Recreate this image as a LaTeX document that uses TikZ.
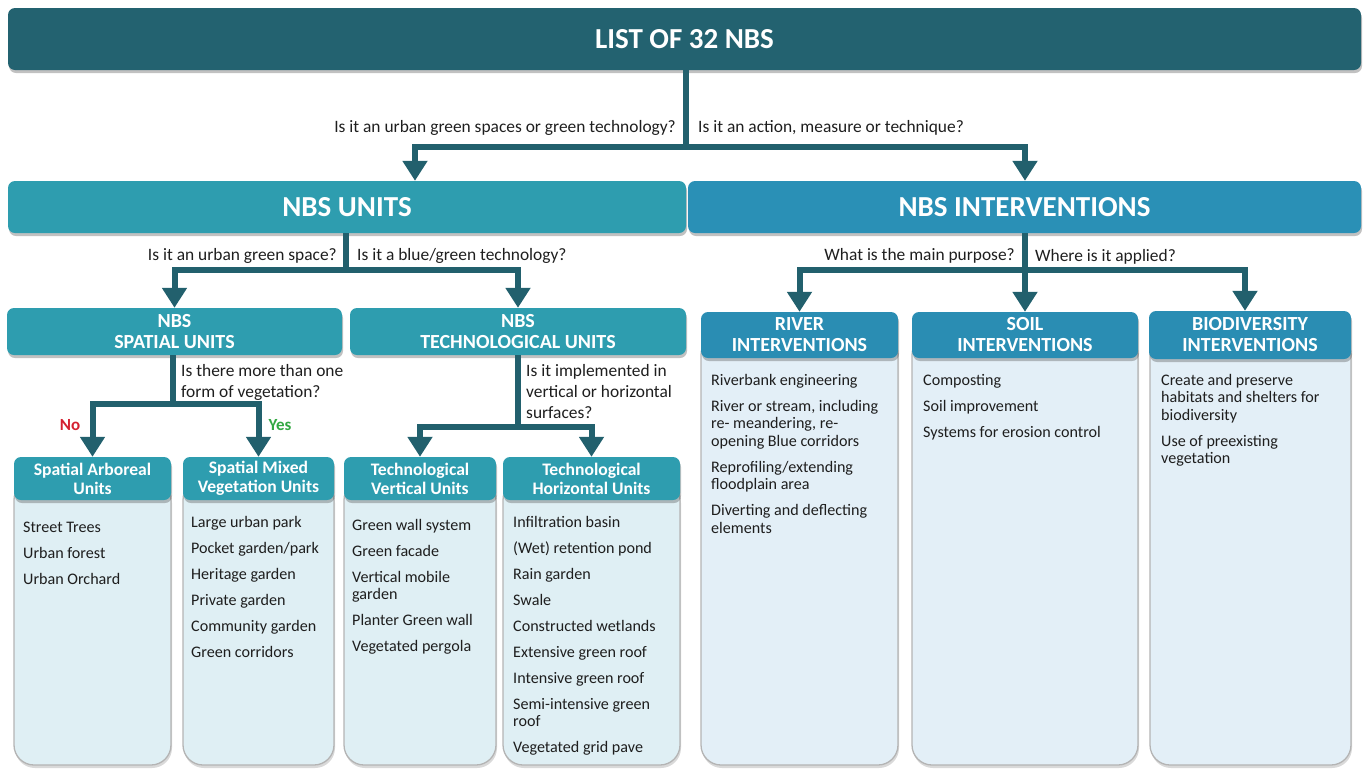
\documentclass[tikz,border=0pt]{standalone}
\usepackage{fontspec}
\setmainfont{Carlito}
\usetikzlibrary{arrows.meta,shadows}
\definecolor{topc}{HTML}{236270}
\definecolor{unitc}{HTML}{2E9DAF}
\definecolor{intc}{HTML}{2A90B6}
\definecolor{rintc}{HTML}{2A8DB3}
\definecolor{arrc}{HTML}{22606D}
\definecolor{bodyl}{HTML}{DFEFF4}
\definecolor{bodyr}{HTML}{E3EFF7}
\definecolor{bordc}{HTML}{B4B4B4}
\definecolor{noc}{HTML}{D42030}
\definecolor{yesc}{HTML}{33A843}
\definecolor{txtc}{HTML}{1E1E1E}
\begin{document}
\begin{tikzpicture}[x=1pt,y=-1pt,
  hdr/.style={fill=#1, text=white, rounded corners=7pt, inner sep=0pt, align=center,
     drop shadow={shadow xshift=1pt,shadow yshift=-3pt,opacity=0.35,fill=black!70}},
  bodybox/.style={fill=#1, draw=bordc, line width=1.3pt, rounded corners=20pt, inner sep=0pt,
     drop shadow={shadow xshift=1pt,shadow yshift=-3pt,opacity=0.25,fill=black!60}},
  conn/.style={draw=arrc, line width=6pt, line join=miter},
  arr/.style={conn, -{Triangle[width=24pt,length=20pt]}},
  bigf/.style={font=\fontsize{29}{32}\selectfont\bfseries},
  midf/.style={font=\fontsize{20}{21}\selectfont\bfseries},
  leaff/.style={font=\fontsize{17.6}{19}\selectfont\bfseries},
  ques/.style={font=\fontsize{17.4}{21}\selectfont, text=txtc, inner sep=0pt, align=left},
  listf/.style={font=\fontsize{16.1}{17.5}\selectfont, text=txtc, inner sep=0pt, align=left, anchor=north west},
]
\useasboundingbox (0,0) rectangle (1369,769);
% ---- bodies
\node[bodybox=bodyl, minimum width=157pt, minimum height=285pt] (ba) at (92.5,622.5) {};
\node[bodybox=bodyl, minimum width=151pt, minimum height=285pt] (bb) at (258.5,622.5) {};
\node[bodybox=bodyl, minimum width=152pt, minimum height=285pt] (bc) at (420,622.5) {};
\node[bodybox=bodyl, minimum width=177pt, minimum height=285pt] (bd) at (591.5,622.5) {};
\node[bodybox=bodyr, minimum width=197pt, minimum height=430pt] (bra) at (799.5,550) {};
\node[bodybox=bodyr, minimum width=226pt, minimum height=430pt] (brb) at (1025,550) {};
\node[bodybox=bodyr, minimum width=201pt, minimum height=430pt] (brc) at (1250.5,550) {};
% ---- headers
\node[hdr=topc, bigf, minimum width=1353pt, minimum height=62pt] (top) at (684.5,39) {LIST OF 32 NBS};
\node[hdr=unitc, bigf, minimum width=678pt, minimum height=52pt] (nu) at (347,207) {NBS UNITS};
\node[hdr=intc, bigf, minimum width=673pt, minimum height=52pt] (ni) at (1024.5,207) {NBS INTERVENTIONS};
\node[hdr=unitc, midf, minimum width=335pt, minimum height=47pt] (su) at (174.5,331.5) {NBS\\SPATIAL UNITS};
\node[hdr=unitc, midf, minimum width=336pt, minimum height=47pt] (tu) at (518,331.5) {NBS\\TECHNOLOGICAL UNITS};
\node[hdr=unitc, leaff, minimum width=157pt, minimum height=43pt] (la) at (92.5,478.5) {Spatial Arboreal\\Units};
\node[hdr=unitc, leaff, minimum width=151pt, minimum height=43pt] (lb) at (258.5,478.5) {Spatial Mixed\\Vegetation Units};
\node[hdr=unitc, leaff, minimum width=152pt, minimum height=43pt] (lc) at (420,478.5) {Technological\\Vertical Units};
\node[hdr=unitc, leaff, minimum width=177pt, minimum height=43pt] (ld) at (591.5,478.5) {Technological\\Horizontal Units};
\node[hdr=rintc, midf, minimum width=197pt, minimum height=46pt] (ra) at (799.5,335) {RIVER\\INTERVENTIONS};
\node[hdr=rintc, midf, minimum width=226pt, minimum height=46pt] (rb) at (1025,335) {SOIL\\INTERVENTIONS};
\node[hdr=rintc, midf, minimum width=202pt, minimum height=48pt] (rc) at (1250,335) {BIODIVERSITY\\INTERVENTIONS};
% ---- lists
\node[listf] (ta) at (23,522) {Street Trees\\[8.5pt]Urban forest\\[8.5pt]Urban Orchard};
\node[listf] (tb) at (191,516) {Large urban park\\[8.5pt]Pocket garden/park\\[8.5pt]Heritage garden\\[8.5pt]Private garden\\[8.5pt]Community garden\\[8.5pt]Green corridors};
\node[listf] (tc) at (352,519) {Green wall system\\[8.5pt]Green facade\\[8.5pt]Vertical mobile\\garden\\[8.5pt]Planter Green wall\\[8.5pt]Vegetated pergola};
\node[listf] (td) at (513,516) {Infiltration basin\\[8.5pt](Wet) retention pond\\[8.5pt]Rain garden\\[8.5pt]Swale\\[8.5pt]Constructed wetlands\\[8.5pt]Extensive green roof\\[8.5pt]Intensive green roof\\[8.5pt]Semi-intensive green\\roof\\[8.5pt]Vegetated grid pave};
\node[listf] (tra) at (711,374) {Riverbank engineering\\[8.5pt]River or stream, including\\re- meandering, re-\\opening Blue corridors\\[8.5pt]Reprofiling/extending\\floodplain area\\[8.5pt]Diverting and deflecting\\elements};
\node[listf] (trb) at (923,374) {Composting\\[8.5pt]Soil improvement\\[8.5pt]Systems for erosion control};
\node[listf] (trc) at (1161,374) {Create and preserve\\habitats and shelters for\\biodiversity\\[8.5pt]Use of preexisting\\vegetation};
% ---- junction coordinates
\coordinate (j1) at (686,147);
\coordinate (x1) at (415,0);
\coordinate (x2) at (1025,0);
\coordinate (j2) at (346,270);
\coordinate (j3) at (1025,270);
\coordinate (j4) at (173,404);
\coordinate (j5) at (518,427);
\coordinate (x3) at (1245,0);
% ---- connectors
\draw[arr] (top.south -| j1) -- (j1) -| (x1 |- nu.north);
\draw[arr] (top.south -| j1) -- (j1) -| (x2 |- ni.north);
\draw[arr] (nu.south -| j2) -- (j2) -| (su.north);
\draw[arr] (nu.south -| j2) -- (j2) -| (tu.north);
\draw[arr] (ni.south -| j3) -- (j3) -| (ra.north);
\draw[arr] (ni.south -| j3) -- (rb.north);
\draw[arr] (ni.south -| j3) -- (j3) -| (x3 |- rc.north);
\draw[arr] (su.south -| j4) -- (j4) -| (la.north);
\draw[arr] (su.south -| j4) -- (j4) -| (lb.north);
\draw[arr] (tu.south -| j5) -- (j5) -| (lc.north);
\draw[arr] (tu.south -| j5) -- (j5) -| (ld.north);
% ---- question labels
\node[ques, anchor=east] (q1) at (676,128) {Is it an urban green spaces or green technology?};
\node[ques, anchor=west] (q2) at (698,128) {Is it an action, measure or technique?};
\node[ques, anchor=east] (q3) at (337,256) {Is it an urban green space?};
\node[ques, anchor=west] (q4) at (357,256) {Is it a blue/green technology?};
\node[ques, anchor=east] (q5) at (1015,256) {What is the main purpose?};
\node[ques, anchor=west] (q6) at (1035,257) {Where is it applied?};
\node[ques, anchor=north west] (q7) at (181,364) {Is there more than one\\form of vegetation?};
\node[ques, anchor=north west] (q8) at (526,364) {Is it implemented in\\vertical or horizontal\\surfaces?};
\node[ques, font=\fontsize{17}{18}\selectfont\bfseries, text=noc] (no) at (70,425) {No};
\node[ques, font=\fontsize{17}{18}\selectfont\bfseries, text=yesc] (yes) at (280,425) {Yes};
\end{tikzpicture}
\end{document}
